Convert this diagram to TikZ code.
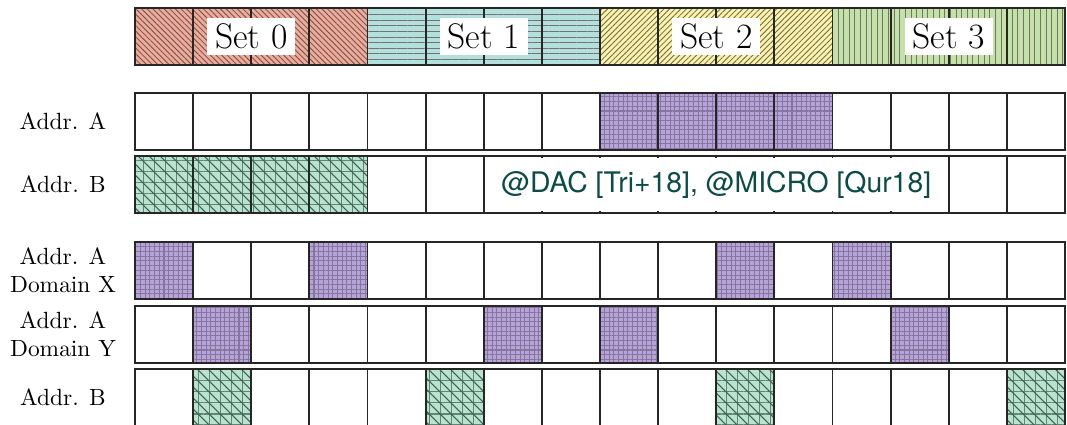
\documentclass[tikz,border=0pt]{standalone}
\usepackage{fontspec}
\newfontfamily\citefont{TeX Gyre Heros}
\usepackage{xcolor}
\usepackage{tikz}
\usetikzlibrary{patterns.meta,calc}

\definecolor{setred}{HTML}{F4A895}
\definecolor{setcyan}{HTML}{B3DFDC}
\definecolor{setyellow}{HTML}{FDF3A2}
\definecolor{setgreen}{HTML}{C4E1A6}
\definecolor{hitpurple}{HTML}{B6A4D8}
\definecolor{hitpurpleline}{HTML}{86769F}
\definecolor{hitteal}{HTML}{B8E3CE}
\definecolor{hittealline}{HTML}{5E8575}
\definecolor{citeteal}{HTML}{0D4B47}
\definecolor{edgegray}{HTML}{262626}

\begin{document}
\begin{tikzpicture}[
        x=0.015cm, y=-0.015cm,
        cell/.style={
            draw=edgegray,
            line width=0.8pt,
            minimum width=8.72mm,
            minimum height=8.55mm,
            inner sep=0pt,
            outer sep=0pt,
            anchor=north west
        },
        set0/.style={preaction={fill=setred},
            pattern={Lines[angle=-45,distance=1.7pt,line width=0.35pt]}, pattern color=black!65},
        set1/.style={preaction={fill=setcyan},
            pattern={Lines[angle=0,distance=2.4pt,line width=0.35pt]}, pattern color=black!55},
        set2/.style={preaction={fill=setyellow},
            pattern={Lines[angle=45,distance=1.7pt,line width=0.35pt]}, pattern color=black!60},
        set3/.style={preaction={fill=setgreen},
            pattern={Lines[angle=90,distance=2.4pt,line width=0.35pt]}, pattern color=black!55},
        hitA/.style={preaction={fill=hitpurple},
            pattern={Hatch[angle=0,distance=2pt,line width=0.45pt]}, pattern color=hitpurpleline},
        hitB/.style={preaction={fill=hitteal},
            preaction={pattern={Hatch[angle=0,distance=4.7pt,line width=0.45pt]}, pattern color=hittealline},
            pattern={Lines[angle=-45,distance=3.32pt,line width=0.45pt]}, pattern color=hittealline!70!black},
        setlabel/.style={
            fill=white,
            font=\fontsize{15.2}{18}\selectfont,
            inner xsep=3.4pt,
            inner ysep=2.5pt
        },
        rowlabel/.style={align=center, font=\normalsize},
        cite/.style={text=citeteal, font=\citefont\fontsize{12.1}{14.5}\selectfont}
    ]

    \useasboundingbox (0,0) rectangle (1067,425);

    % cache sets
    \foreach \s in {0,...,3}{
        \foreach \k in {0,...,3}{
            \pgfmathtruncatemacro{\i}{4*\s+\k}
            \node[cell,set\s] (set-\i) at ({135+58.125*\i},8) {};
        }
        \node[setlabel] (setname-\s) at ({135+58.125*(4*\s+2)},36.5) {Set \s};
    }

    % address rows
    \foreach \row/\y/\hits/\sty in {
            addrA/93/{8,9,10,11}/hitA,
            addrB/156/{0,1,2,3}/hitB,
            domX/242/{0,3,10,12}/hitA,
            domY/306/{1,6,8,13}/hitA,
            addrBb/369/{1,5,10,15}/hitB}{
        \foreach \i in {0,...,15}
            \node[cell] (\row-\i) at ({135+58.125*\i},\y) {};
        \foreach \i in \hits
            \node[cell,\sty] (\row-\i) at ({135+58.125*\i},\y) {};
    }

    \node[rowlabel] (lab-addrA) at (63,121.5) {Addr. A};
    \node[rowlabel] (lab-addrB) at (63,184.5) {Addr. B};
    \node[rowlabel] (lab-domX) at (63,270.5) {Addr. A\\Domain X};
    \node[rowlabel] (lab-domY) at (63,334.5) {Addr. A\\Domain Y};
    \node[rowlabel] (lab-addrBb) at (63,397.5) {Addr. B};

    \fill[white] ($(addrB-6.north west)+(1.2,2)$) rectangle ($(addrB-13.south east)+(-1.2,-2)$);
    \node[cite] (prior) at ($(addrB-6.west)!0.5!(addrB-13.east)$) {@DAC [Tri+18], @MICRO [Qur18]};

    \end{tikzpicture}
\end{document}
